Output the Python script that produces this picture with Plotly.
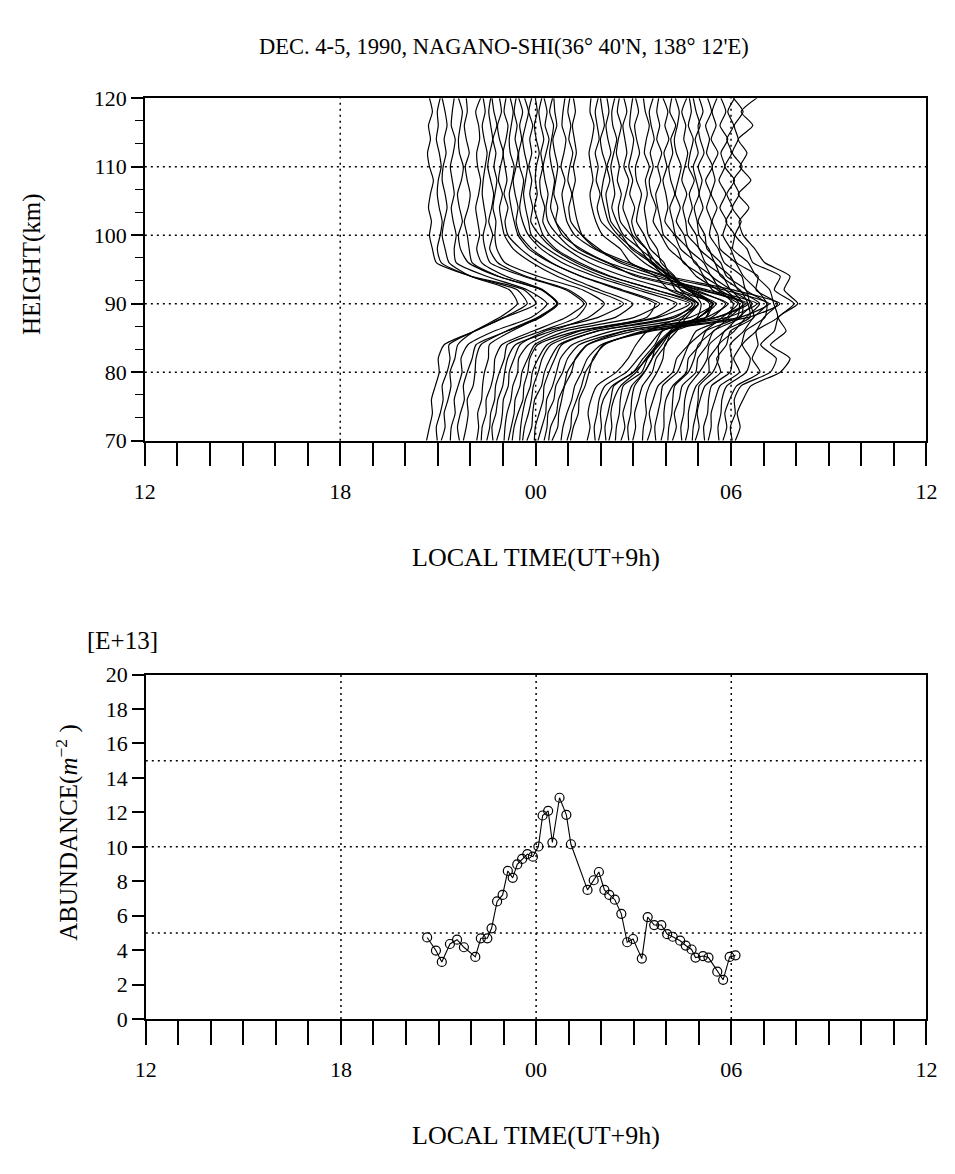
import plotly.graph_objects as go

# ---------------- data ----------------
# observation times (hours, local time; 24 = 00h of Dec 5)
times = [20.65, 20.92, 21.10, 21.35, 21.57, 21.78, 22.13, 22.30, 22.50, 22.63,
         22.80, 22.97, 23.13, 23.28, 23.42, 23.57, 23.73, 23.90, 24.07, 24.20,
         24.37, 24.50, 24.72, 24.93, 25.07, 25.58, 25.77, 25.93, 26.10, 26.25,
         26.42, 26.62, 26.80, 26.98, 27.25, 27.43, 27.63, 27.85, 28.03, 28.20,
         28.43, 28.60, 28.78, 28.90, 29.13, 29.30, 29.57, 29.75, 29.95, 30.13]

# column abundance [E+13 m^-2]
abundance = [4.74, 3.98, 3.32, 4.36, 4.61, 4.17, 3.61, 4.69, 4.69, 5.27,
             6.83, 7.21, 8.60, 8.20, 8.98, 9.30, 9.58, 9.43, 10.02, 11.82,
             12.09, 10.25, 12.85, 11.86, 10.15, 7.50, 8.06, 8.54, 7.50, 7.21,
             6.93, 6.11, 4.46, 4.65, 3.51, 5.92, 5.46, 5.46, 4.93, 4.78,
             4.55, 4.27, 4.04, 3.57, 3.66, 3.57, 2.75, 2.28, 3.61, 3.70]

# altitude grid of the density profiles (km)
heights = [70, 72, 74, 76, 78, 80, 82, 84, 86, 88, 90, 92, 94,
           96, 98, 100, 102, 104, 106, 108, 110, 112, 114, 116, 118, 120]

# Na density profiles (relative units), one row per observation time
profiles = [
    [0, 3, 6, 5, 9, 13, 12, 18, 50, 80, 112, 100, 46, 10, 6, 3, 5, 2, 4, 7, 3, 1, 4, 2, 6, 3],
    [2, 1, 5, 8, 7, 12, 15, 14, 40, 70, 94, 84, 36, 6, 2, 5, 7, 4, 2, 3, 6, 4, 1, 3, 2, 5],
    [0, 4, 3, 7, 10, 9, 14, 17, 34, 60, 78, 70, 30, 8, 4, 1, 3, 6, 4, 1, 2, 5, 3, 6, 4, 1],
    [1, 2, 6, 5, 9, 13, 12, 19, 46, 84, 100, 80, 38, 7, 5, 7, 4, 2, 5, 3, 1, 4, 6, 2, 3, 5],
    [3, 1, 4, 8, 7, 11, 16, 20, 52, 86, 104, 88, 42, 12, 4, 2, 6, 3, 1, 5, 7, 3, 2, 4, 6, 2],
    [0, 3, 5, 4, 10, 12, 13, 18, 44, 76, 96, 80, 36, 9, 6, 4, 1, 5, 7, 4, 2, 6, 3, 1, 4, 3],
    [2, 4, 3, 7, 8, 10, 14, 15, 38, 66, 84, 70, 32, 7, 2, 5, 3, 1, 4, 6, 3, 2, 5, 4, 1, 6],
    [1, 2, 6, 6, 11, 14, 15, 22, 54, 88, 106, 88, 44, 10, 5, 3, 6, 4, 2, 3, 5, 7, 4, 2, 5, 3],
    [0, 3, 4, 8, 9, 13, 18, 21, 56, 92, 102, 84, 40, 11, 3, 6, 2, 5, 7, 4, 1, 3, 6, 4, 2, 4],
    [2, 1, 5, 7, 12, 14, 17, 25, 62, 100, 116, 94, 48, 14, 6, 4, 5, 2, 4, 6, 3, 5, 2, 6, 3, 1],
    [0, 4, 6, 7, 12, 13, 18, 24, 50, 104, 130, 98, 62, 36, 17, 8, 5, 3, 6, 2, 4, 7, 3, 1, 5, 3],
    [2, 3, 5, 9, 11, 16, 17, 27, 56, 116, 134, 100, 66, 38, 19, 6, 3, 6, 2, 5, 3, 1, 4, 6, 2, 4],
    [1, 4, 7, 8, 13, 15, 21, 28, 60, 130, 156, 118, 76, 44, 22, 11, 7, 4, 2, 5, 7, 3, 2, 4, 6, 3],
    [0, 2, 6, 11, 12, 16, 18, 26, 66, 138, 146, 110, 70, 40, 20, 8, 4, 6, 3, 1, 4, 6, 3, 5, 2, 4],
    [3, 4, 6, 9, 14, 16, 22, 31, 64, 142, 164, 124, 80, 46, 25, 12, 6, 3, 5, 7, 3, 2, 5, 3, 6, 2],
    [1, 3, 7, 10, 12, 17, 21, 30, 68, 140, 172, 126, 82, 50, 26, 10, 7, 4, 2, 4, 6, 3, 1, 4, 7, 3],
    [0, 5, 6, 8, 15, 18, 24, 33, 72, 152, 170, 132, 84, 50, 27, 13, 4, 6, 3, 5, 2, 5, 3, 6, 2, 5],
    [2, 3, 7, 11, 12, 17, 23, 30, 66, 142, 170, 126, 80, 48, 24, 11, 6, 2, 5, 3, 4, 7, 4, 2, 5, 3],
    [0, 4, 8, 9, 15, 19, 23, 35, 76, 156, 180, 136, 88, 52, 29, 12, 5, 7, 3, 2, 5, 3, 6, 3, 1, 4],
    [2, 5, 6, 12, 14, 21, 26, 38, 84, 178, 208, 162, 100, 60, 31, 16, 6, 4, 6, 3, 1, 4, 7, 3, 5, 2],
    [1, 3, 9, 11, 17, 20, 29, 41, 88, 184, 214, 164, 106, 62, 34, 15, 8, 3, 5, 7, 4, 2, 4, 6, 2, 5],
    [0, 6, 7, 10, 13, 20, 24, 36, 74, 158, 180, 142, 86, 56, 27, 14, 4, 6, 2, 4, 6, 3, 1, 5, 3, 2],
    [2, 4, 8, 13, 16, 23, 29, 43, 94, 194, 226, 178, 112, 66, 36, 16, 8, 5, 3, 6, 2, 5, 7, 3, 4, 6],
    [1, 5, 6, 11, 16, 20, 29, 38, 82, 178, 208, 162, 100, 64, 31, 16, 5, 3, 6, 2, 4, 7, 3, 5, 2, 4],
    [0, 3, 8, 9, 15, 19, 23, 35, 74, 150, 182, 136, 90, 50, 29, 12, 7, 4, 2, 5, 3, 6, 4, 2, 5, 3],
    [0, 3, 1, 4, 10, 30, 42, 50, 62, 96, 114, 84, 70, 44, 34, 16, 9, 5, 3, 6, 4, 2, 5, 7, 3, 4],
    [2, 1, 4, 6, 12, 34, 46, 58, 70, 108, 122, 90, 74, 52, 36, 22, 8, 4, 7, 3, 5, 2, 6, 4, 2, 5],
    [0, 3, 2, 5, 14, 36, 50, 60, 78, 116, 130, 100, 72, 56, 36, 20, 10, 6, 3, 5, 8, 4, 2, 6, 4, 2],
    [2, 1, 4, 7, 10, 30, 40, 52, 60, 104, 108, 88, 62, 48, 28, 18, 7, 4, 2, 6, 3, 7, 4, 2, 5, 3],
    [0, 3, 2, 5, 12, 28, 38, 50, 66, 92, 110, 80, 64, 42, 32, 15, 8, 3, 6, 4, 2, 5, 8, 4, 3, 6],
    [1, 2, 5, 6, 9, 28, 34, 46, 58, 94, 100, 80, 56, 44, 26, 17, 6, 4, 7, 3, 5, 2, 4, 7, 3, 5],
    [0, 4, 2, 6, 11, 24, 32, 42, 52, 80, 94, 68, 54, 36, 26, 12, 7, 2, 5, 8, 3, 6, 4, 2, 6, 3],
    [2, 1, 4, 5, 8, 18, 26, 30, 44, 58, 70, 50, 42, 26, 20, 9, 5, 8, 3, 6, 2, 5, 7, 3, 4, 6],
    [0, 3, 2, 6, 10, 20, 24, 34, 40, 66, 70, 58, 38, 32, 18, 12, 4, 6, 9, 4, 3, 7, 4, 2, 6, 3],
    [1, 2, 5, 4, 8, 16, 22, 24, 36, 46, 58, 40, 34, 20, 16, 7, 5, 3, 6, 4, 8, 3, 5, 8, 4, 2],
    [0, 4, 2, 6, 11, 26, 30, 42, 50, 82, 88, 72, 50, 38, 22, 14, 6, 9, 4, 2, 6, 3, 7, 4, 2, 6],
    [2, 1, 4, 7, 9, 24, 30, 36, 52, 70, 86, 60, 50, 30, 24, 10, 7, 4, 2, 7, 4, 8, 3, 6, 3, 5],
    [0, 3, 3, 5, 12, 26, 28, 40, 46, 78, 80, 66, 44, 36, 20, 14, 4, 7, 5, 2, 6, 3, 8, 4, 7, 2],
    [1, 2, 5, 6, 8, 22, 28, 32, 48, 64, 78, 54, 46, 28, 22, 9, 6, 3, 8, 4, 2, 6, 4, 9, 3, 5],
    [0, 4, 2, 7, 10, 24, 26, 36, 42, 70, 72, 60, 40, 32, 16, 12, 4, 8, 3, 6, 9, 4, 2, 5, 7, 3],
    [2, 1, 4, 5, 9, 20, 28, 30, 46, 60, 74, 52, 44, 26, 20, 8, 6, 3, 7, 2, 5, 8, 4, 6, 2, 7],
    [0, 3, 3, 6, 11, 24, 24, 34, 40, 66, 64, 56, 36, 30, 14, 11, 3, 7, 4, 9, 3, 5, 8, 3, 6, 4],
    [1, 2, 5, 7, 8, 22, 28, 28, 44, 56, 70, 48, 40, 24, 18, 8, 6, 3, 8, 5, 2, 7, 4, 9, 5, 2],
    [0, 4, 2, 5, 10, 26, 22, 32, 36, 60, 56, 52, 32, 26, 12, 10, 3, 8, 4, 7, 3, 9, 5, 3, 8, 4],
    [2, 1, 5, 6, 9, 28, 30, 28, 42, 52, 66, 44, 40, 22, 16, 7, 9, 4, 8, 3, 10, 4, 7, 3, 9, 5],
    [0, 3, 3, 7, 12, 32, 26, 34, 38, 58, 60, 50, 36, 28, 12, 10, 4, 9, 3, 7, 4, 10, 3, 8, 4, 9],
    [2, 1, 4, 5, 10, 30, 34, 26, 40, 48, 62, 40, 42, 20, 14, 6, 10, 3, 9, 2, 8, 4, 11, 3, 9, 4],
    [0, 4, 2, 7, 14, 38, 30, 36, 34, 56, 52, 48, 34, 26, 10, 12, 3, 10, 4, 12, 2, 9, 4, 11, 5, 12],
    [3, 1, 6, 5, 12, 42, 48, 32, 46, 50, 66, 46, 52, 24, 18, 6, 12, 3, 10, 4, 13, 3, 9, 5, 14, 4],
    [0, 5, 2, 8, 16, 46, 56, 36, 52, 44, 64, 50, 56, 30, 20, 8, 4, 14, 3, 16, 5, 12, 3, 18, 6, 22],
]

# axis ticks / labels
time_ticks = [12, 18, 24, 30, 36]
time_labels = ["12", "18", "00", "06", "12"]
height_ticks = [70, 80, 90, 100, 110, 120]
abund_ticks = [0, 2, 4, 6, 8, 10, 12, 14, 16, 18, 20]
grid_time = [18, 24, 30]
grid_height = [80, 90, 100, 110]
grid_abund = [5, 10, 15]

DENS_TO_HOURS = 0.03   # horizontal scale of the waterfall profiles

W, H = 955, 1174
FONT = "Liberation Serif"

fig = go.Figure()

for t, prof in zip(times, profiles):
    fig.add_trace(go.Scatter(
        x=[t + DENS_TO_HOURS * v for v in prof], y=heights,
        mode="lines", line=dict(color="black", width=1.2, shape="spline", smoothing=0.6),
        xaxis="x", yaxis="y", hoverinfo="skip"))

fig.add_trace(go.Scatter(
    x=times, y=abundance, mode="lines+markers",
    line=dict(color="black", width=1.1),
    marker=dict(symbol="circle-open", size=9, color="black", line=dict(width=1.2)),
    xaxis="x2", yaxis="y2"))


def px_x(p):
    return p / W


def px_y(p):
    return 1 - p / H


axis_common = dict(showline=True, mirror=True, linecolor="black", linewidth=1.5,
                   showgrid=False, zeroline=False, ticks="outside", tickcolor="black",
                   tickfont=dict(family=FONT, size=22, color="black"))

xcommon = dict(axis_common, range=[12, 36], tickvals=time_ticks, ticktext=time_labels,
               ticklen=24, tickwidth=1.5, ticklabelstandoff=6,
               minor=dict(dtick=1, tick0=12, ticks="outside", ticklen=24,
                          tickcolor="black", tickwidth=1.5))

fig.update_layout(
    width=W, height=H, margin=dict(l=0, r=0, t=0, b=0),
    paper_bgcolor="white", plot_bgcolor="white", showlegend=False,
    font=dict(family=FONT, size=22, color="black"),
    xaxis=dict(xcommon, domain=[px_x(137), px_x(937)], anchor="y"),
    yaxis=dict(axis_common, domain=[px_y(438), px_y(88)], range=[70, 120],
               tickvals=height_ticks, ticklen=12, tickwidth=1.5, anchor="x",
               minor=dict(dtick=10 / 3, tick0=70, ticks="outside", ticklen=8,
                          tickcolor="black", tickwidth=1.2)),
    xaxis2=dict(xcommon, domain=[px_x(138), px_x(937)], anchor="y2"),
    yaxis2=dict(axis_common, domain=[px_y(1029), px_y(677)], range=[0, 20],
                tickvals=abund_ticks, ticklen=12, tickwidth=1.5, anchor="x2"),
)

dot = dict(color="black", width=1.5, dash="2px,4px")
shapes = []
for g in grid_time:
    shapes.append(dict(type="line", xref="x", yref="y domain", x0=g, x1=g, y0=0, y1=1,
                       line=dot, layer="below"))
    shapes.append(dict(type="line", xref="x2", yref="y2 domain", x0=g, x1=g, y0=0, y1=1,
                       line=dot, layer="below"))
for g in grid_height:
    shapes.append(dict(type="line", xref="x domain", yref="y", x0=0, x1=1, y0=g, y1=g,
                       line=dot, layer="below"))
for g in grid_abund:
    shapes.append(dict(type="line", xref="x2 domain", yref="y2", x0=0, x1=1, y0=g, y1=g,
                       line=dot, layer="below"))
fig.update_layout(shapes=shapes)


def ann(text, x, y, angle=0, size=22):
    return dict(text=text, x=px_x(x), y=px_y(y), xref="paper", yref="paper",
                showarrow=False, textangle=angle, xanchor="center", yanchor="middle",
                font=dict(family=FONT, size=size, color="black"))


fig.update_layout(annotations=[
    ann("DEC. 4-5, 1990, NAGANO-SHI(36° 40'N, 138° 12'E)", 505, 35, size=22.5),
    ann("HEIGHT(km)", 21, 258, angle=-90, size=25),
    ann("LOCAL TIME(UT+9h)", 537, 557, size=26),
    ann("[E+13]", 114, 642, size=25),
    ann("ABUNDANCE(<i>m</i><sup>−2</sup> )", 57, 838, angle=-90, size=25),
    ann("LOCAL TIME(UT+9h)", 537, 1148, size=26),
])

fig.write_html("out.html")
